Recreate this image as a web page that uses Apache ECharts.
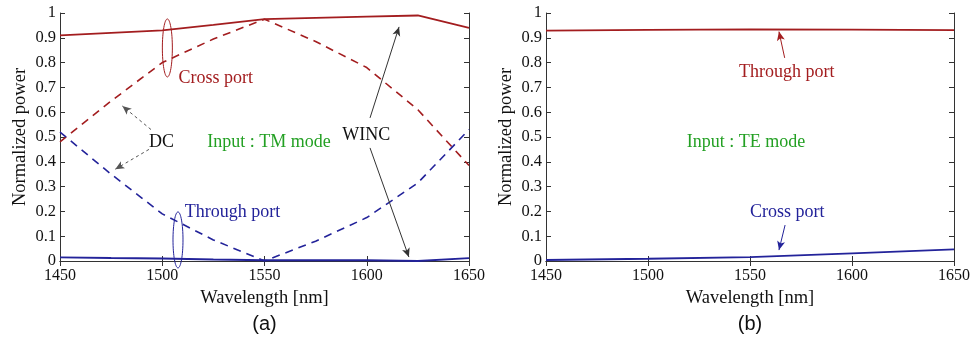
<!DOCTYPE html>
<html>
<head>
<meta charset="utf-8">
<script src="https://cdn.jsdelivr.net/npm/echarts@6/dist/echarts.min.js"></script>
<style>html,body{margin:0;padding:0;background:#fff}#c{width:975px;height:340px}</style>
</head>
<body>
<div id="c"></div>
<script>
// ---- data ----
const wavelengthTM = [1450, 1475, 1500, 1525, 1550, 1575, 1600, 1625, 1650];
const tmCrossWINC   = [0.91, 0.92, 0.93, 0.952, 0.975, 0.98, 0.985, 0.99, 0.94];
const tmCrossDC     = [0.48, 0.645, 0.80, 0.895, 0.975, 0.885, 0.78, 0.61, 0.385];
const tmThroughDC   = [0.52, 0.35, 0.19, 0.085, 0.0, 0.08, 0.175, 0.315, 0.53];
const tmThroughWINC = [0.015, 0.012, 0.01, 0.006, 0.003, 0.003, 0.003, 0.0, 0.012];

const wavelengthTE = [1450, 1500, 1550, 1600, 1650];
const teThrough = [0.929, 0.932, 0.934, 0.933, 0.931];
const teCross   = [0.004, 0.009, 0.016, 0.031, 0.047];

const xTicks = [1450, 1500, 1550, 1600, 1650];
const yTicks = [0, 0.1, 0.2, 0.3, 0.4, 0.5, 0.6, 0.7, 0.8, 0.9, 1];

const RED = '#a31d1f', BLUE = '#23239a', GREEN = '#23a023', GRAY = '#555';
const SERIF = '"Liberation Serif", "DejaVu Serif", serif';

const pair = (xs, ys) => xs.map((x, i) => [x, ys[i]]);

const chart = echarts.init(document.getElementById('c'), null, {renderer: 'canvas'});

function xAxes(gi) {
  return [
    {gridIndex: gi, type: 'value', min: 1450, max: 1650, interval: 50, position: 'bottom',
     name: 'Wavelength [nm]', nameLocation: 'middle', nameGap: 27,
     nameTextStyle: {fontFamily: SERIF, fontSize: 18.5, color: '#111'},
     axisLine: {lineStyle: {color: '#333', width: 1}},
     axisTick: {inside: true, length: 5, lineStyle: {color: '#333'}},
     axisLabel: {fontFamily: SERIF, fontSize: 16, color: '#111', margin: 7,
       formatter: v => xTicks.includes(v) ? String(v) : ''},
     splitLine: {show: false}},
    {gridIndex: gi, type: 'value', min: 1450, max: 1650, interval: 50, position: 'top',
     axisLine: {lineStyle: {color: '#333', width: 1}},
     axisTick: {inside: true, length: 5, lineStyle: {color: '#333'}},
     axisLabel: {show: false}, splitLine: {show: false}}
  ];
}
function yAxes(gi) {
  return [
    {gridIndex: gi, type: 'value', min: 0, max: 1, interval: 0.1, position: 'left',
     name: 'Normalized power', nameLocation: 'middle', nameGap: 30,
     nameTextStyle: {fontFamily: SERIF, fontSize: 18.5, color: '#111'},
     axisLine: {show: true, lineStyle: {color: '#333', width: 1}},
     axisTick: {show: true, inside: true, length: 5, lineStyle: {color: '#333'}},
     axisLabel: {fontFamily: SERIF, fontSize: 16.5, color: '#111', margin: 4,
       formatter: v => { const t = yTicks.find(k => Math.abs(k - v) < 1e-6); return t === undefined ? '' : String(t); }},
     splitLine: {show: false}},
    {gridIndex: gi, type: 'value', min: 0, max: 1, interval: 0.1, position: 'right',
     axisLine: {show: true, lineStyle: {color: '#333', width: 1}},
     axisTick: {show: true, inside: true, length: 5, lineStyle: {color: '#333'}},
     axisLabel: {show: false}, splitLine: {show: false}}
  ];
}

function line(name, xi, yi, data, color, dashed) {
  return {name, type: 'line', xAxisIndex: xi, yAxisIndex: yi, data, symbol: 'none',
    smooth: false, silent: true, z: 3,
    lineStyle: {color, width: dashed ? 1.6 : 1.8, type: dashed ? [8, 6] : 'solid'}};
}

function arrows(xi, yi, list) {
  return {type: 'line', xAxisIndex: xi, yAxisIndex: yi, data: [], silent: true, z: 5,
    markLine: {silent: true, symbol: ['none', 'arrow'], symbolSize: [6, 9], animation: false,
      label: {show: false},
      data: list.map(a => [{coord: a.from, lineStyle: {color: a.color, width: 1, type: a.dashed ? [3, 3] : 'solid'}},
                           {coord: a.to}])}};
}

const arrowsTM = [
  {from: [1494.5, 0.53], to: [1480.5, 0.625], color: GRAY, dashed: true},
  {from: [1493.5, 0.45], to: [1477, 0.37], color: GRAY, dashed: true},
  {from: [1601.6, 0.577], to: [1615.8, 0.944], color: '#333', dashed: false},
  {from: [1601.6, 0.456], to: [1620.6, 0.016], color: '#333', dashed: false}
];
const arrowsTE = [
  {from: [1567, 0.819], to: [1564.2, 0.925], color: RED, dashed: false},
  {from: [1567.2, 0.145], to: [1564.2, 0.044], color: BLUE, dashed: false}
];

chart.setOption({
  animation: false,
  backgroundColor: '#fff',
  grid: [
    {left: 60, right: 506, top: 13, bottom: 79},
    {left: 546, right: 21, top: 13, bottom: 79}
  ],
  xAxis: [...xAxes(0), ...xAxes(1)],
  yAxis: [...yAxes(0), ...yAxes(1)],
  series: [
    line('TM cross WINC', 0, 0, pair(wavelengthTM, tmCrossWINC), RED, false),
    line('TM cross DC', 0, 0, pair(wavelengthTM, tmCrossDC), RED, true),
    line('TM through DC', 0, 0, pair(wavelengthTM, tmThroughDC), BLUE, true),
    line('TM through WINC', 0, 0, pair(wavelengthTM, tmThroughWINC), BLUE, false),
    line('TE through', 2, 2, pair(wavelengthTE, teThrough), RED, false),
    line('TE cross', 2, 2, pair(wavelengthTE, teCross), BLUE, false),
    arrows(0, 0, arrowsTM),
    arrows(2, 2, arrowsTE)
  ]
});

// annotations in data coordinates
const textsTM = [
  {t: 'Cross port', at: [1508, 0.738], color: RED},
  {t: 'Through port', at: [1511, 0.198], color: BLUE},
  {t: 'DC', at: [1493.5, 0.48], color: '#111'},
  {t: 'Input : TM mode', at: [1522, 0.48], color: GREEN},
  {t: 'WINC', at: [1588, 0.508], color: '#111'}
];
const textsTE = [
  {t: 'Through port', at: [1544.6, 0.762], color: RED},
  {t: 'Input : TE mode', at: [1519, 0.48], color: GREEN},
  {t: 'Cross port', at: [1550, 0.198], color: BLUE}
];
const ellipsesTM = [
  {at: [1502.5, 0.859], rx: 5, ry: 29, color: RED},
  {at: [1507.7, 0.085], rx: 5, ry: 28, color: BLUE}
];

const g = [];
function addTexts(list, gi) {
  list.forEach(a => {
    const p = chart.convertToPixel({gridIndex: gi}, a.at);
    g.push({type: 'text', x: p[0], y: p[1], z: 10, silent: true,
      style: {text: a.t, fill: a.color, font: '18px ' + SERIF, textAlign: 'left', textVerticalAlign: 'middle'}});
  });
}
addTexts(textsTM, 0);
addTexts(textsTE, 1);
ellipsesTM.forEach(e => {
  const p = chart.convertToPixel({gridIndex: 0}, e.at);
  g.push({type: 'ellipse', z: 10, silent: true, shape: {cx: p[0], cy: p[1], rx: e.rx, ry: e.ry},
    style: {fill: 'none', stroke: e.color, lineWidth: 1}});
});
[['(a)', 0], ['(b)', 1]].forEach(([t, gi]) => {
  const r = chart.getModel().getComponent('grid', gi).coordinateSystem.getRect();
  g.push({type: 'text', x: r.x + r.width / 2, y: 324, silent: true,
    style: {text: t, fill: '#111', font: '20px "Liberation Sans", Arial, sans-serif', textAlign: 'center', textVerticalAlign: 'middle'}});
});
chart.setOption({graphic: g});
</script>
</body>
</html>
